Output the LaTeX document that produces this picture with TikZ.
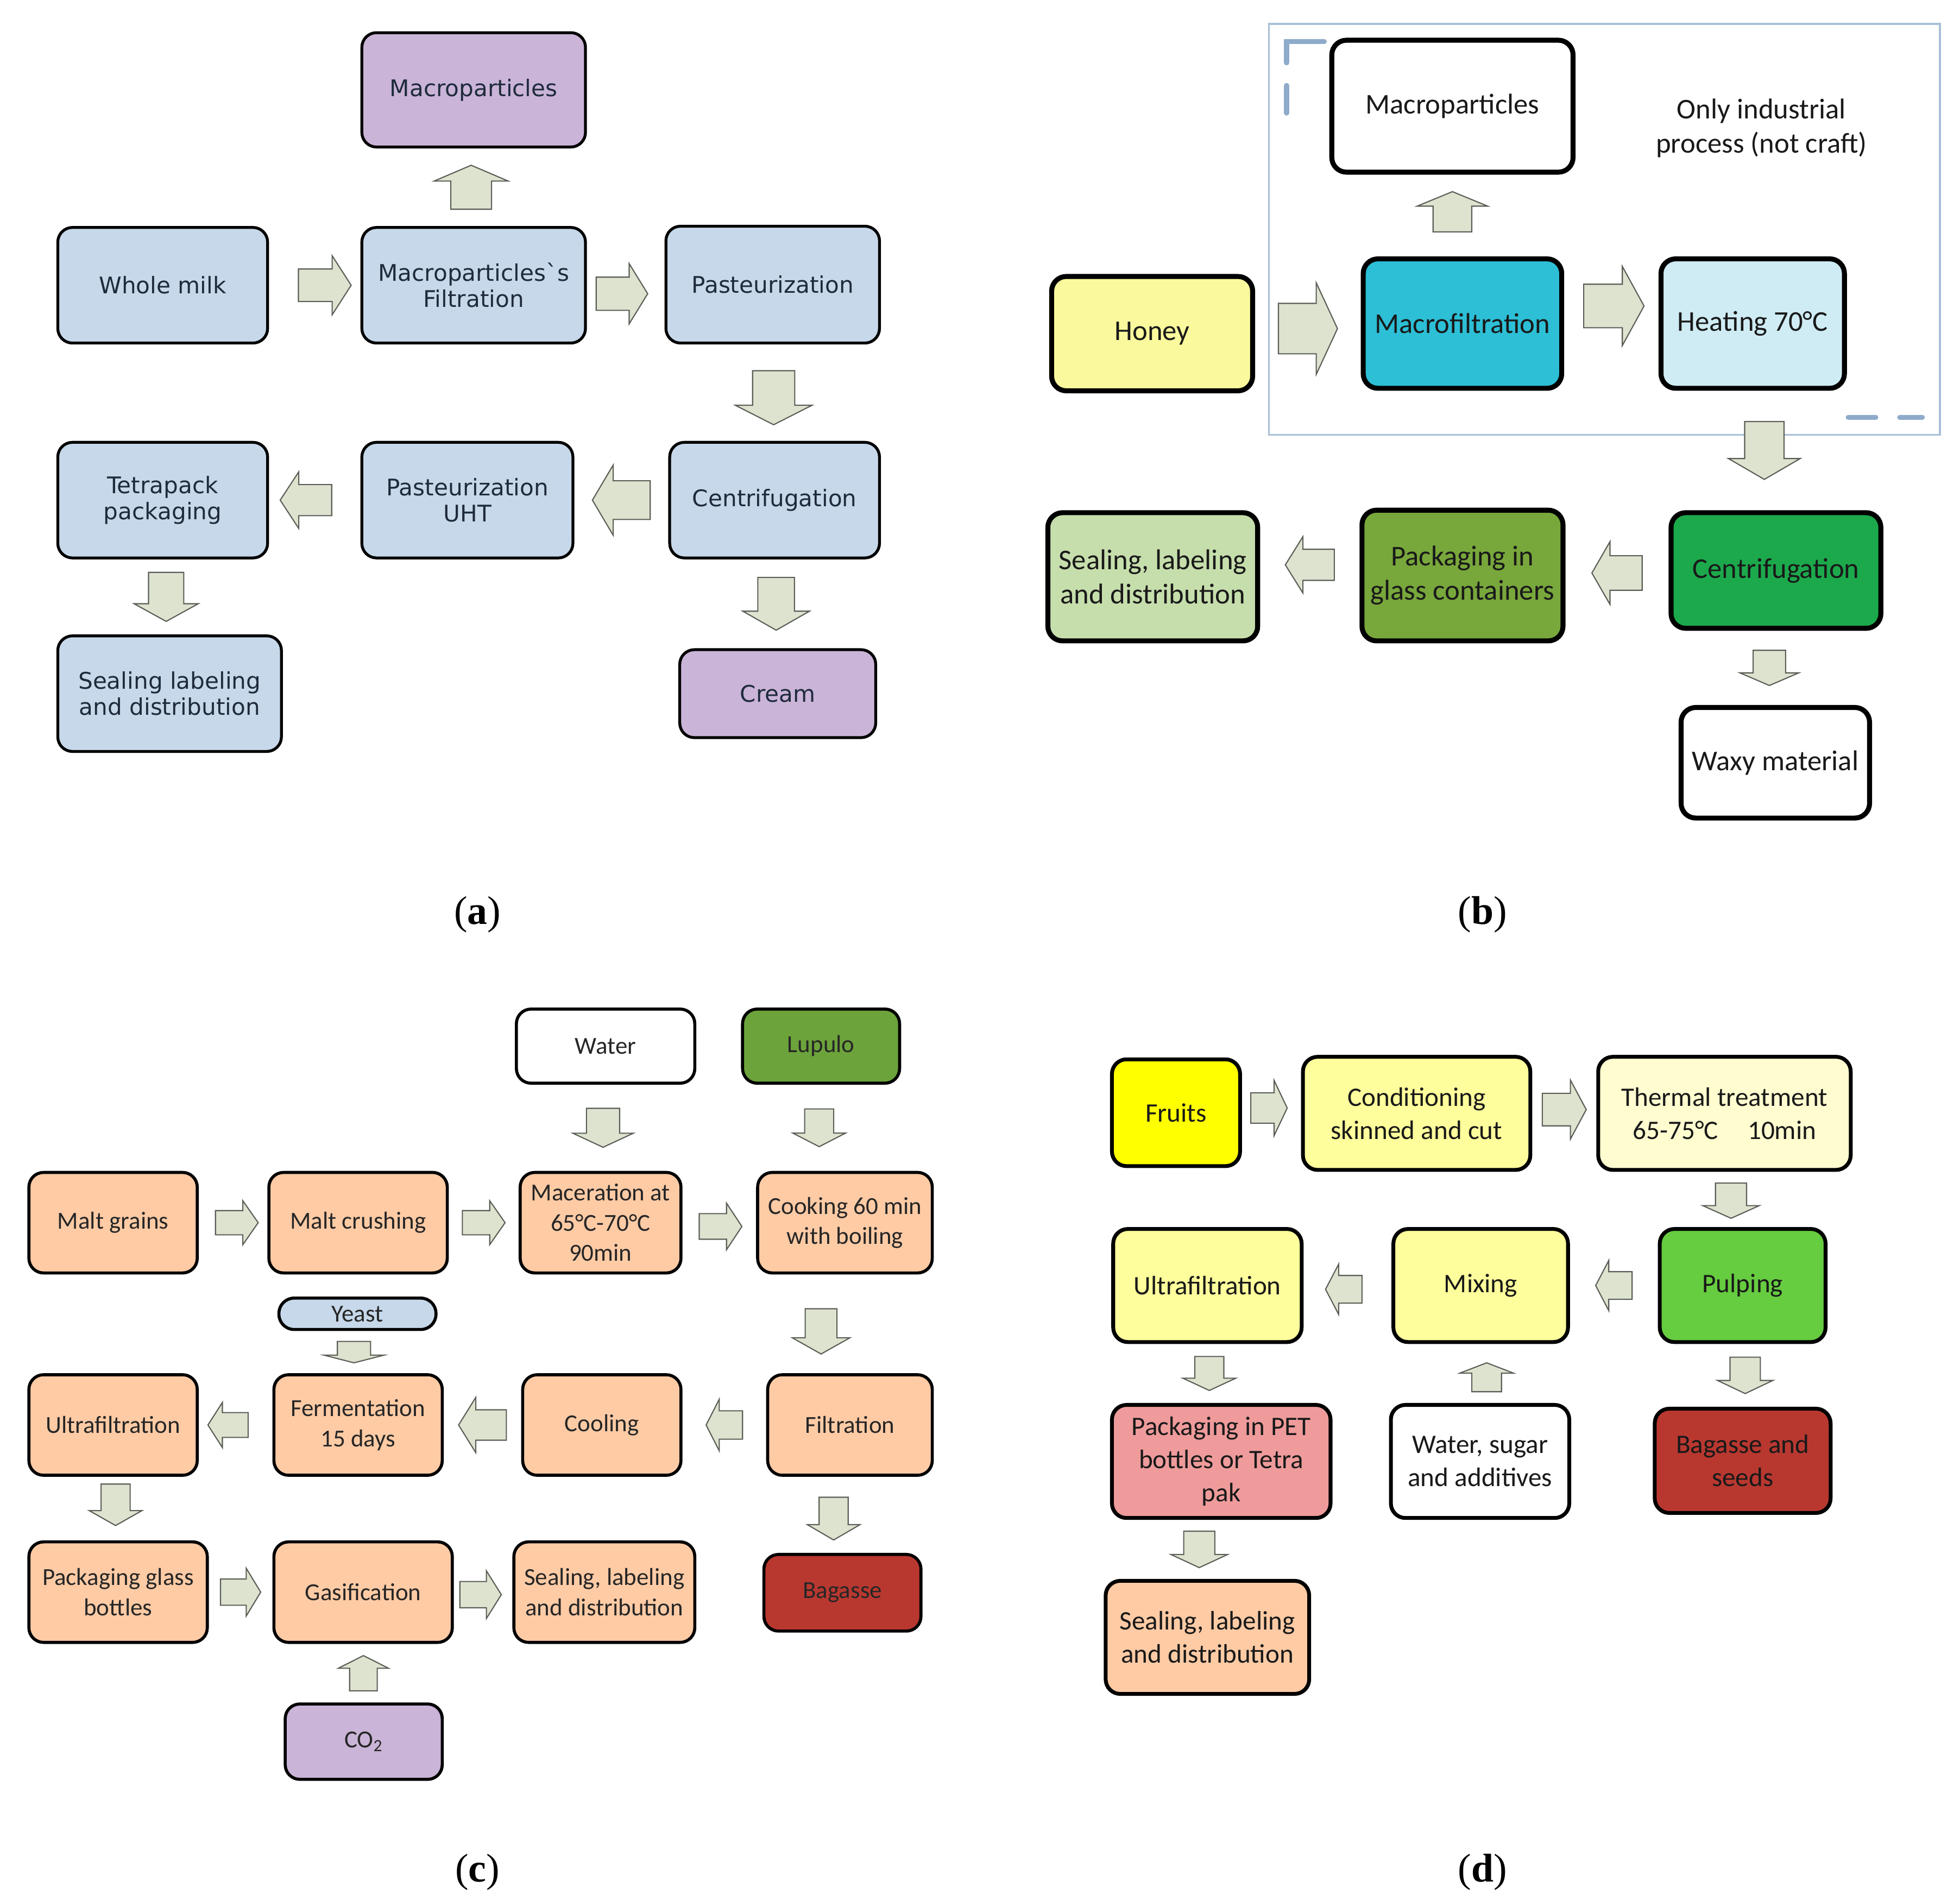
\documentclass[tikz,border=0pt]{standalone}
\usepackage{fontspec}
\setmainfont{Carlito}
\newfontfamily\milkfont{DejaVu Sans}
\newfontfamily\capfont{Liberation Serif}
\usetikzlibrary{calc}
\usetikzlibrary{positioning}

\definecolor{milkblue}{HTML}{C6D8E9}
\definecolor{lilac}{HTML}{CAB4D7}
\definecolor{navytext}{HTML}{1E2B3C}
\definecolor{honey}{HTML}{FAF99D}
\definecolor{cyanbox}{HTML}{2CBFD6}
\definecolor{paleblue}{HTML}{CFECF4}
\definecolor{greenbox}{HTML}{1CA94C}
\definecolor{olivebox}{HTML}{78A73B}
\definecolor{palegreen}{HTML}{C6DEAC}
\definecolor{peach}{HTML}{FFCBA5}
\definecolor{hopgreen}{HTML}{6CA33B}
\definecolor{bagasse}{HTML}{B83830}
\definecolor{fruit}{HTML}{FFFF00}
\definecolor{lemon}{HTML}{FFFE9C}
\definecolor{creamy}{HTML}{FFFDD0}
\definecolor{pulpgreen}{HTML}{66CC40}
\definecolor{petpink}{HTML}{EF9B9B}
\definecolor{arrowfill}{HTML}{DDE3CF}
\definecolor{arrowline}{HTML}{5A5E57}
\definecolor{framecol}{HTML}{A8BFD6}
\definecolor{markcol}{HTML}{8FABCB}

\tikzset{
  boxsize/.style 2 args={minimum width=#1*\px, minimum height=#2*\px},
  stage/.style={draw=black, rounded corners=0.27cm, align=center, inner sep=1pt},
  stagea/.style={stage, line width=1.5pt, fill=milkblue, text=navytext, font=\milkfont\fontsize{12}{13.6}\selectfont},
  stageb/.style={stage, line width=2.6pt, text=black!90, font=\fontsize{15}{18}\selectfont},
  stagec/.style={stage, line width=1.6pt, fill=peach, text=black!85, font=\fontsize{12.8}{15.8}\selectfont},
  staged/.style={stage, line width=2pt, fill=lemon, text=black!90, font=\fontsize{14}{17.4}\selectfont},
  flowarrow/.style={fill=arrowfill, draw=arrowline, line width=0.6pt, line join=miter},
  panellabel/.style={font=\capfont\fontsize{21}{24}\selectfont},
}

% block arrow: position, angle, length, head width
\newcommand{\procarrow}[4]{%
  \begin{scope}[shift={($#1$)}, rotate=#2]
    \filldraw[flowarrow] (-#3/2,-0.275*#4) -- (0.14*#3,-0.275*#4) -- (0.14*#3,-#4/2) -- (#3/2,0)
      -- (0.14*#3,#4/2) -- (0.14*#3,0.275*#4) -- (-#3/2,0.275*#4) -- cycle;
  \end{scope}}

\begin{document}
\begin{tikzpicture}[x=0.02313cm, y=-0.02313cm]

  \def\px{0.02313cm}
  \path[fill=white, use as bounding box] (0,0) rectangle (1560,1512);

  % (a) milk
  \node[stagea, boxsize={178}{91}, fill=lilac] (macroa) at (377,71.5) {Macroparticles};
  \node[stagea, boxsize={167}{92}] (wm) at (129.5,227) {Whole milk};
  \node[stagea, boxsize={178}{92}] (mfa) at (377,227) {Macroparticles\textasciigrave s\\Filtration};
  \node[stagea, boxsize={170}{93}] (pasta) at (615,226.5) {Pasteurization};
  \node[stagea, boxsize={167}{92}] (centa) at (616.5,398) {Centrifugation};
  \node[stagea, boxsize={168}{92}] (uht) at (372,398) {Pasteurization\\UHT};
  \node[stagea, boxsize={167}{92}] (tetra) at (129.5,398) {Tetrapack\\packaging};
  \node[stagea, boxsize={178}{92}] (seala) at (135,552) {Sealing labeling\\and distribution};
  \node[stagea, boxsize={156}{70}, fill=lilac] (cream) at (619,552) {Cream};

  \procarrow{(wm.east)!.5!(mfa.west)+(8,0)}{0}{42}{47}
  \procarrow{(mfa.east)!.5!(pasta.west)+(-3,7)}{0}{41}{48}
  \procarrow{(mfa.north)!.5!(macroa.south)+(-2,0)}{90}{35}{59}
  \procarrow{(pasta.south)!.5!(centa.north)+(0,4)}{270}{43}{61}
  \procarrow{(centa.west)!.5!(uht.east)}{180}{46}{56}
  \procarrow{(uht.west)!.5!(tetra.east)+(-7,0)}{180}{41}{45}
  \procarrow{(tetra.south)!.5!(seala.north)}{270}{39}{51}
  \procarrow{(centa.south)!.5!(cream.north)}{270}{42}{53}

  \node[panellabel] (capa) at (380,728) {(\textbf{a})};

  % (b) honey
  \draw[framecol, line width=0.9pt] (1010,19) rectangle (1544,346);
  \draw[markcol, line width=2.6pt, line cap=round] (1024,50) -- (1024,33) -- (1054,33);
  \draw[markcol, line width=2.6pt, line cap=round] (1024,68) -- (1024,90);
  \draw[markcol, line width=2.6pt, line cap=round] (1471,332) -- (1493,332);
  \draw[markcol, line width=2.6pt, line cap=round] (1512,332) -- (1530,332);

  \node[stageb, boxsize={192}{105}, fill=white] (macrob) at (1156,84.5) {Macroparticles};
  \node[font=\fontsize{15}{18}\selectfont, align=center, text=black!90] (note) at (1402,102) {Only industrial\\process (not craft)};
  \node[stageb, boxsize={160}{91}, fill=honey] (honey) at (917,265.5) {Honey};
  \node[stageb, boxsize={158}{103}, fill=cyanbox] (macf) at (1164,257.5) {Macrofiltration};
  \node[stageb, boxsize={146}{103}, fill=paleblue] (heat) at (1395,257.5) {Heating 70°C};
  \node[stageb, boxsize={167}{92}, fill=greenbox] (centb) at (1413.5,454) {Centrifugation};
  \node[stageb, boxsize={160}{104}, fill=olivebox] (glass) at (1164,458) {Packaging in\\glass containers};
  \node[stageb, boxsize={167}{102}, fill=palegreen] (sealb) at (917.5,459) {Sealing, labeling\\and distribution};
  \node[stageb, boxsize={150}{88}, fill=white] (waxy) at (1413,607) {Waxy material};

  \procarrow{(honey.east)!.5!(macf.west)}{0}{47}{73}
  \procarrow{(macf.east)!.5!(heat.west)+(2,-14)}{0}{48}{63}
  \procarrow{(macf.north)!.5!(macrob.south)+(-4,-3)}{90}{32}{56}
  \procarrow{(heat.south)!.5!(centb.north)}{270}{46}{57}
  \procarrow{(centb.west)!.5!(glass.east)}{180}{40}{50}
  \procarrow{(glass.west)!.5!(sealb.east)+(0,-9)}{180}{39}{45}
  \procarrow{(centb.south)!.5!(waxy.north)+(-5,0)}{270}{28}{47}

  \node[panellabel] (capb) at (1180,728) {(\textbf{b})};

  % (c) beer
  \node[stagec, boxsize={142}{59}, fill=white] (water) at (482,832.5) {Water};
  \node[stagec, boxsize={125}{59}, fill=hopgreen] (lupulo) at (653.5,832.5) {Lupulo};
  \node[stagec, boxsize={134}{80}] (malt) at (90,973) {Malt grains};
  \node[stagec, boxsize={142}{80}] (crush) at (285,973) {Malt crushing};
  \node[stagec, boxsize={128}{80}] (macer) at (478,973) {Maceration at\\65°C-70°C\\90min};
  \node[stagec, boxsize={139}{80}] (cook) at (672.5,973) {Cooking 60 min\\with boiling};
  \node[stagec, boxsize={125}{25}, fill=milkblue, rounded corners=0.28cm] (yeast) at (284.5,1045.5) {Yeast};
  \node[stagec, boxsize={134}{80}] (ultrac) at (90,1134) {Ultrafiltration};
  \node[stagec, boxsize={134}{80}] (ferm) at (285,1134) {Fermentation\\15 days};
  \node[stagec, boxsize={126}{80}] (cool) at (479,1134) {Cooling};
  \node[stagec, boxsize={131}{80}] (filt) at (676.5,1134) {Filtration};
  \node[stagec, boxsize={142}{80}] (bottles) at (94,1267) {Packaging glass\\bottles};
  \node[stagec, boxsize={142}{80}] (gas) at (289,1267) {Gasification};
  \node[stagec, boxsize={144}{80}] (sealc) at (481,1267) {Sealing, labeling\\and distribution};
  \node[stagec, boxsize={125}{61}, fill=bagasse] (bagc) at (670.5,1267.5) {Bagasse};
  \node[stagec, boxsize={125}{60}, fill=lilac] (co2) at (289.5,1386) {CO\textsubscript{2}};

  \procarrow{(water.south)!.5!(macer.north)}{270}{31}{48}
  \procarrow{(lupulo.south)!.5!(cook.north)+(-11,0)}{270}{30}{42}
  \procarrow{(malt.east)!.5!(crush.west)+(3,0)}{0}{34}{35}
  \procarrow{(crush.east)!.5!(macer.west)}{0}{34}{35}
  \procarrow{(macer.east)!.5!(cook.west)+(1,3)}{0}{34}{37}
  \procarrow{(cook.south)!.5!(filt.north)+(-21,6)}{270}{36}{46}
  \procarrow{(yeast.south)!.5!(ferm.north)+(-3,0)}{270}{17}{48}
  \procarrow{(filt.west)!.5!(cool.east)}{180}{29}{41}
  \procarrow{(cool.west)!.5!(ferm.east)}{180}{38}{44}
  \procarrow{(ferm.west)!.5!(ultrac.east)+(-6,0)}{180}{32}{36}
  \procarrow{(ultrac.south)!.5!(bottles.north)+(0,-3)}{270}{33}{42}
  \procarrow{(bottles.east)!.5!(gas.west)}{0}{32}{38}
  \procarrow{(gas.east)!.5!(sealc.west)+(-2,2)}{0}{33}{38}
  \procarrow{(co2.north)!.5!(gas.south)}{90}{28}{40}
  \procarrow{(filt.south)!.5!(bagc.north)+(-10,3)}{270}{34}{42}

  \node[panellabel] (capc) at (380,1490) {(\textbf{c})};

  % (d) fruit juice
  \node[staged, boxsize={102}{85}, fill=fruit] (fruits) at (936,885.5) {Fruits};
  \node[staged, boxsize={181}{90}] (cond) at (1127.5,886) {Conditioning\\skinned and cut};
  \node[staged, boxsize={201}{90}, fill=creamy] (therm) at (1372.5,886) {Thermal treatment\\65-75°C\hspace{1.1em}10min};
  \node[staged, boxsize={150}{90}] (ultrad) at (961,1023) {Ultrafiltration};
  \node[staged, boxsize={139}{90}] (mix) at (1178.5,1023) {Mixing};
  \node[staged, boxsize={132}{90}, fill=pulpgreen] (pulp) at (1387,1023) {Pulping};
  \node[staged, boxsize={174}{90}, fill=petpink] (pet) at (972,1163) {Packaging in PET\\bottles or Tetra\\pak};
  \node[staged, boxsize={142}{90}, fill=white] (additives) at (1178,1163) {Water, sugar\\and additives};
  \node[staged, boxsize={140}{83}, fill=bagasse] (seeds) at (1387,1162.5) {Bagasse and\\seeds};
  \node[staged, boxsize={162}{90}, fill=peach] (seald) at (961,1303) {Sealing, labeling\\and distribution};

  \procarrow{(fruits.east)!.5!(cond.west)+(-2,-4)}{0}{29}{44}
  \procarrow{(cond.east)!.5!(therm.west)+(0,-3)}{0}{35}{47}
  \procarrow{(therm.south)!.5!(pulp.north)+(-2,1)}{270}{28}{45}
  \procarrow{(pulp.west)!.5!(mix.east)}{180}{29}{40}
  \procarrow{(mix.west)!.5!(ultrad.east)+(-3,3)}{180}{29}{40}
  \procarrow{(ultrad.south)!.5!(pet.north)+(-4,0)}{270}{27}{42}
  \procarrow{(additives.north)!.5!(mix.south)+(5,3)}{90}{23}{43}
  \procarrow{(pulp.south)!.5!(seeds.north)+(2,0)}{270}{29}{44}
  \procarrow{(pet.south)!.5!(seald.north)+(-12,0)}{270}{29}{45}

  \node[panellabel] (capd) at (1180,1490) {(\textbf{d})};

\end{tikzpicture}
\end{document}
